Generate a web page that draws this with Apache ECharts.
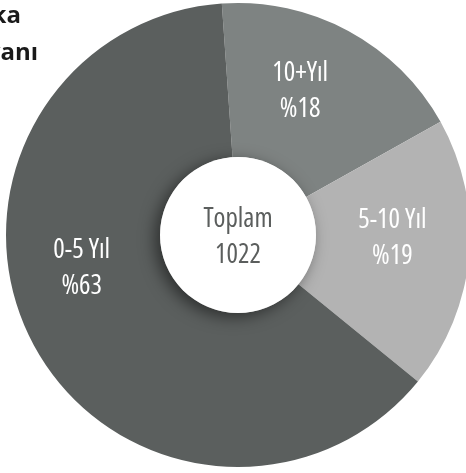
<!DOCTYPE html>
<html>
<head>
<meta charset="utf-8">
<script src="https://cdn.jsdelivr.net/npm/echarts@6/dist/echarts.min.js"></script>
<style>
html,body{margin:0;padding:0;background:#fff;}
#chart{width:466px;height:473px;}
</style>
</head>
<body>
<div id="chart"></div>
<script>
var categories = ['10+Yıl', '5-10 Yıl', '0-5 Yıl'];
var values = [184, 194, 644];
var percentLabels = ['%18', '%19', '%63'];
var total = 1022;
var totalLabel = 'Toplam';
var titleLines = ['ka', 'vanı'];

var colors = ['#7e8382', '#b3b3b3', '#5b5f5e'];
var labelOffsets = [[-13, -5], [-3, -10], [-16, -39]];
var condensedFamily = '"Open Sans"';

var chart = echarts.init(document.getElementById('chart'), null, {renderer: 'canvas'});

var pieData = categories.map(function (c, i) {
  return {
    name: c,
    value: values[i],
    itemStyle: {color: colors[i]},
    label: {offset: labelOffsets[i], formatter: c + '\n' + percentLabels[i]}
  };
});

chart.setOption({
  animation: false,
  graphic: [
    {type: 'text', style: {text: titleLines[0], x: 21, y: 16, textAlign: 'right', textVerticalAlign: 'middle', fontSize: 24, fontWeight: 'bold', fontFamily: '"Open Sans"', fill: '#1a1a1a'}},
    {type: 'text', style: {text: titleLines[1], x: 38, y: 53, textAlign: 'right', textVerticalAlign: 'middle', fontSize: 24, fontWeight: 'bold', fontFamily: '"Open Sans"', fill: '#1a1a1a'}}
  ],
  series: [
    {
      type: 'pie',
      center: [238, 235],
      radius: [78, 232],
      startAngle: 94,
      clockwise: true,
      silent: true,
      label: {
        show: true,
        position: 'inside',
        color: '#ffffff',
        fontStyle: 'condensed',
        fontWeight: 500,
        fontFamily: condensedFamily,
        fontSize: 27,
        lineHeight: 36
      },
      labelLine: {show: false},
      itemStyle: {borderWidth: 0},
      data: pieData
    },
    {
      type: 'pie',
      center: [238, 235],
      radius: [0, 78],
      silent: true,
      z: 5,
      label: {
        show: true,
        position: 'center',
        offset: [0, 2],
        color: '#5b5e5d',
        fontStyle: 'condensed',
        fontWeight: 500,
        fontFamily: condensedFamily,
        fontSize: 27,
        lineHeight: 36,
        formatter: totalLabel + '\n' + total
      },
      labelLine: {show: false},
      itemStyle: {
        color: '#ffffff',
        shadowBlur: 16,
        shadowOffsetX: -5,
        shadowOffsetY: 4,
        shadowColor: 'rgba(0,0,0,0.5)'
      },
      data: [{name: 'total', value: total}]
    }
  ]
});
</script>
</body>
</html>
